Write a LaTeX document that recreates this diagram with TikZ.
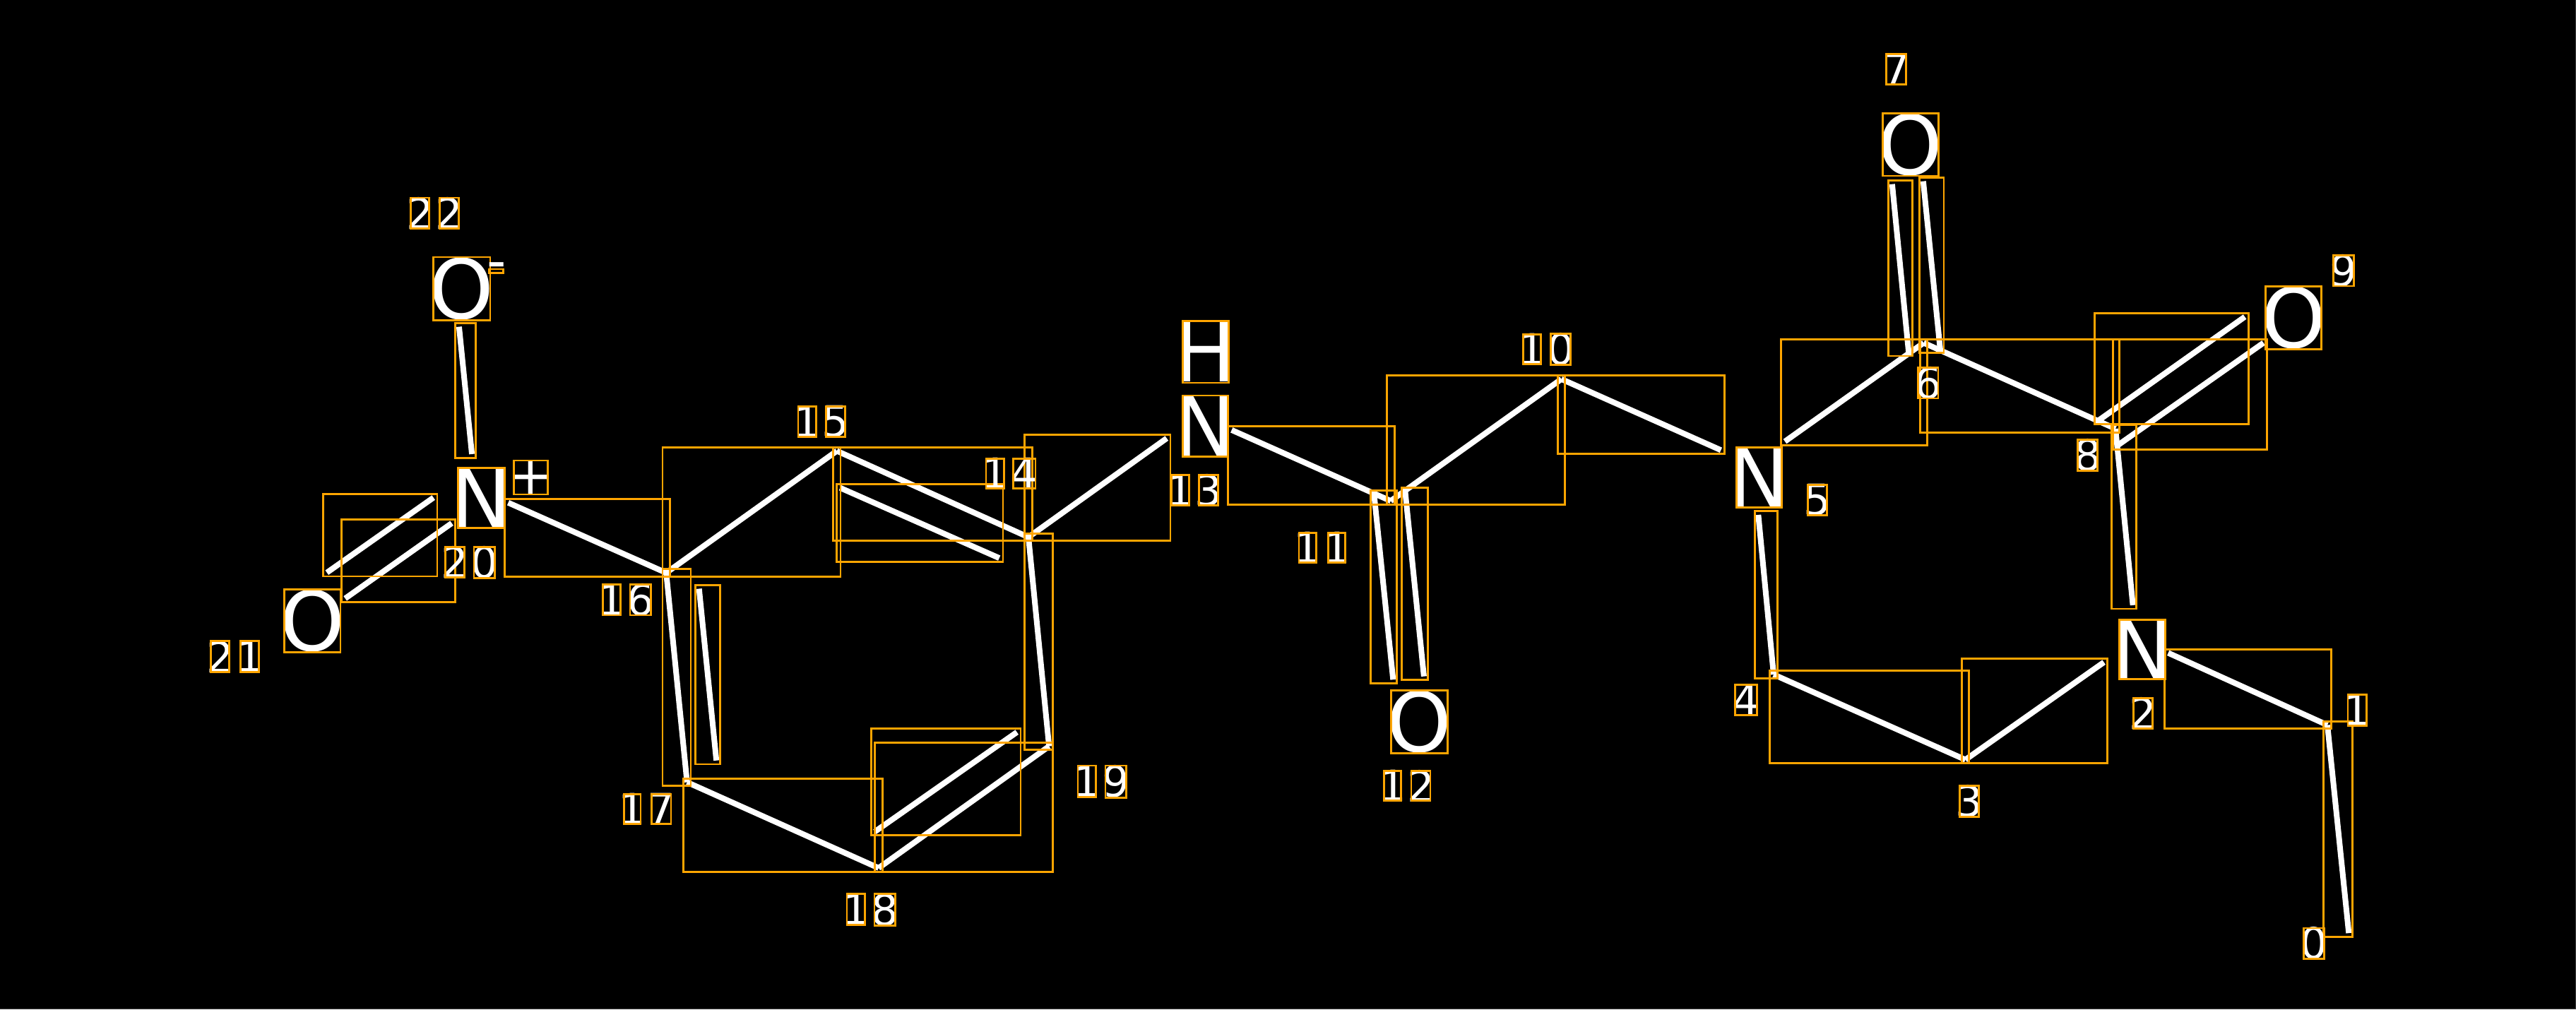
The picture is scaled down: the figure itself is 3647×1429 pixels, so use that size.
\documentclass[tikz,border=0pt]{standalone}
\usepackage{fontspec}
\setmainfont{DejaVu Sans}
\usetikzlibrary{fit}
\definecolor{boxorange}{RGB}{255,165,0}
\definecolor{edgegray}{RGB}{60,60,60}
\newcommand{\gl}[7]{%
  \node[#6] (#1) at ({(#2+#4)/2},{(#3+#5)/2}) {#7};
  \draw[glyphframe] ({#2+1.2},{#3+1.2}) rectangle ({#4-1.2},{#5-1.2});}
\begin{document}
\begin{tikzpicture}[x=0.25pt,y=-0.25pt,
  bond/.style={white, line width=2pt, line cap=butt},
  bondbox/.style={draw=boxorange, line width=0.7pt, inner sep=1.3pt, outer sep=0pt},
  glyphframe/.style={draw=boxorange, line width=0.7pt},
  atomtxt/.style={text=white, inner sep=0pt, outer sep=0pt, font=\fontsize{29.2}{30}\selectfont},
  idxtxt/.style={text=white, inner sep=0pt, outer sep=0pt, font=\fontsize{15.2}{16}\selectfont},
  chgtxt/.style={text=white, inner sep=0pt, outer sep=0pt, font=\fontsize{19}{20}\selectfont}]
\useasboundingbox (0,0) rectangle (3647,1429);
\fill[black] (0,0) rectangle (3647,1429);
\draw[edgegray, line width=0.25pt] (0,1428.5) -- (3646.5,1428.5) -- (3646.5,0);

% carbon atom positions
\coordinate (c0) at (3325.3,1321.1);
\coordinate (c1) at (3295,1026.5);
\coordinate (c3) at (2782.5,1075.6);
\coordinate (c4) at (2511,955);
\coordinate (c6) at (2723.4,485.4);
\coordinate (c8) at (2995,607);
\coordinate (c10) at (2210.5,536.7);
\coordinate (c11) at (1968.9,709.2);
\coordinate (c14) at (1456,760.5);
\coordinate (c15) at (1184.8,638.4);
\coordinate (c16) at (943.2,811);
\coordinate (c17) at (972.7,1107.5);
\coordinate (c18) at (1243.9,1228.9);
\coordinate (c19) at (1485.2,1056.6);
% bond ends next to labelled atoms
\coordinate (n2a) at (3069.6,924.4);
\coordinate (n2b) at (2978.6,937.6);
\coordinate (n2c) at (3019.6,856.8);
\coordinate (n5a) at (2489.3,728.9);
\coordinate (n5b) at (2527,625);
\coordinate (n5c) at (2436.4,637.3);
\coordinate (n13a) at (1743.7,608.8);
\coordinate (n13b) at (1651.8,620.5);
\coordinate (n20a) at (719.5,711.7);
\coordinate (n20b) at (668.1,642.9);
\coordinate (o22) at (649.9,462.6);
% double bond lines
\coordinate (d67a1) at (2702.2,498.8);
\coordinate (d67a2) at (2678.8,260.7);
\coordinate (d67b1) at (2746.8,494.1);
\coordinate (d67b2) at (2722.8,256.6);
\coordinate (d89a1) at (2970.5,595.6);
\coordinate (d89a2) at (3178.1,448.5);
\coordinate (d89b1) at (2996.8,631.4);
\coordinate (d89b2) at (3204.5,485.4);
\coordinate (d1112a1) at (1945.3,699.7);
\coordinate (d1112a2) at (1972.3,962.2);
\coordinate (d1112b1) at (1989.4,696);
\coordinate (d1112b2) at (2015.9,957.6);
\coordinate (i1415a) at (1414.7,790.1);
\coordinate (i1415b) at (1189.3,690.6);
\coordinate (i1617a) at (989.7,833.5);
\coordinate (i1617b) at (1014.2,1076.7);
\coordinate (i1819a) at (1238.4,1177.6);
\coordinate (i1819b) at (1439.7,1036.6);
\coordinate (d2021a1) at (613.7,704.5);
\coordinate (d2021a2) at (462.8,810.7);
\coordinate (d2021b1) at (639.6,740.7);
\coordinate (d2021b2) at (488.7,847.3);

% bonds
\draw[bond] (c0) -- (c1);
\draw[bond] (c1) -- (n2a);
\draw[bond] (n2b) -- (c3);
\draw[bond] (c3) -- (c4);
\draw[bond] (c4) -- (n5a);
\draw[bond] (n5b) -- (c6);
\draw[bond] (d67a1) -- (d67a2);
\draw[bond] (d67b1) -- (d67b2);
\draw[bond] (c6) -- (c8);
\draw[bond] (d89a1) -- (d89a2);
\draw[bond] (d89b1) -- (d89b2);
\draw[bond] (c8) -- (n2c);
\draw[bond] (c10) -- (n5c);
\draw[bond] (c11) -- (c10);
\draw[bond] (d1112a1) -- (d1112a2);
\draw[bond] (d1112b1) -- (d1112b2);
\draw[bond] (n13a) -- (c11);
\draw[bond] (c14) -- (n13b);
\draw[bond] (c15) -- (c14);
\draw[bond] (i1415a) -- (i1415b);
\draw[bond] (c16) -- (c15);
\draw[bond] (n20a) -- (c16);
\draw[bond] (c16) -- (c17);
\draw[bond] (i1617a) -- (i1617b);
\draw[bond] (c17) -- (c18);
\draw[bond] (c18) -- (c19);
\draw[bond] (i1819a) -- (i1819b);
\draw[bond] (c19) -- (c14);
\draw[bond] (n20b) -- (o22);
\draw[bond] (d2021a1) -- (d2021a2);
\draw[bond] (d2021b1) -- (d2021b2);

% bond boxes
\node[bondbox, fit=(c0)(c1)] (bx01) {};
\node[bondbox, fit=(c1)(n2a)] (bx12) {};
\node[bondbox, fit=(n2b)(c3)] (bx23) {};
\node[bondbox, fit=(c3)(c4)] (bx34) {};
\node[bondbox, fit=(c4)(n5a)] (bx45) {};
\node[bondbox, fit=(n5b)(c6)] (bx56) {};
\node[bondbox, fit=(d67a1)(d67a2)] (bx67a) {};
\node[bondbox, fit=(d67b1)(d67b2)] (bx67b) {};
\node[bondbox, fit=(c6)(c8)] (bx68) {};
\node[bondbox, fit=(d89a1)(d89a2)] (bx89a) {};
\node[bondbox, fit=(d89b1)(d89b2)] (bx89b) {};
\node[bondbox, fit=(c8)(n2c)] (bx82) {};
\node[bondbox, fit=(c10)(n5c)] (bx105) {};
\node[bondbox, fit=(c11)(c10)] (bx1110) {};
\node[bondbox, fit=(d1112a1)(d1112a2)] (bx1112a) {};
\node[bondbox, fit=(d1112b1)(d1112b2)] (bx1112b) {};
\node[bondbox, fit=(n13a)(c11)] (bx1311) {};
\node[bondbox, fit=(c14)(n13b)] (bx1413) {};
\node[bondbox, fit=(c15)(c14)] (bx1514) {};
\node[bondbox, fit=(i1415a)(i1415b)] (bx1415i) {};
\node[bondbox, fit=(c16)(c15)] (bx1615) {};
\node[bondbox, fit=(n20a)(c16)] (bx2016) {};
\node[bondbox, fit=(c16)(c17)] (bx1617) {};
\node[bondbox, fit=(i1617a)(i1617b)] (bx1617i) {};
\node[bondbox, fit=(c17)(c18)] (bx1718) {};
\node[bondbox, fit=(c18)(c19)] (bx1819) {};
\node[bondbox, fit=(i1819a)(i1819b)] (bx1819i) {};
\node[bondbox, fit=(c19)(c14)] (bx1914) {};
\node[bondbox, fit=(n20b)(o22)] (bx2022) {};
\node[bondbox, fit=(d2021a1)(d2021a2)] (bx2021a) {};
\node[bondbox, fit=(d2021b1)(d2021b2)] (bx2021b) {};

% atom symbols
\gl{aO22}{612.6}{362.8}{695.2}{454.7}{atomtxt}{O}
\gl{aN20}{647}{661}{715.3}{749}{atomtxt}{N}
\gl{aO21}{401}{832.9}{483.1}{924.4}{atomtxt}{O}
\gl{aH13}{1673}{453.5}{1740.5}{543.1}{atomtxt}{H}
\gl{aN13}{1673}{558.7}{1739.5}{647.3}{atomtxt}{N}
\gl{aO12}{1968.2}{976.5}{2050.4}{1067.4}{atomtxt}{O}
\gl{aN5}{2457}{632}{2523.3}{719.6}{atomtxt}{N}
\gl{aO7}{2664.1}{159.1}{2745.7}{250.1}{atomtxt}{O}
\gl{aO9}{3206.3}{404.4}{3287.8}{495.3}{atomtxt}{O}
\gl{aN2}{2999.2}{876.2}{3066.6}{963}{atomtxt}{N}
% charges
\gl{qplus}{726.4}{650.7}{776.9}{701.2}{chgtxt}{+}
\gl{qminus}{691.6}{379.7}{713.9}{387.8}{chgtxt}{-}

% atom indices
\gl{l0}{3260.3}{1312.8}{3292}{1358.7}{idxtxt}{0}
\gl{l1}{3322.7}{982.3}{3351.3}{1028.3}{idxtxt}{1}
\gl{l2}{3019.1}{987.2}{3049}{1032.7}{idxtxt}{2}
\gl{l3}{2773.3}{1111.2}{2802.6}{1157.7}{idxtxt}{3}
\gl{l4}{2455.2}{968.4}{2488.7}{1013.3}{idxtxt}{4}
\gl{l5}{2557.9}{684.9}{2587.8}{730.6}{idxtxt}{5}
\gl{l6}{2714.6}{519.4}{2745.1}{565.2}{idxtxt}{6}
\gl{l7}{2669.4}{75.2}{2699.9}{121}{idxtxt}{7}
\gl{l8}{2940.5}{620.9}{2970.4}{667.3}{idxtxt}{8}
\gl{l9}{3301.9}{360.4}{3333.6}{406.2}{idxtxt}{9}
\gl{l10a}{2155.5}{471.9}{2183}{516.9}{idxtxt}{1}
\gl{l10b}{2194.5}{471}{2224.4}{517.8}{idxtxt}{0}
\gl{l11a}{1837.8}{752.9}{1864.4}{797.5}{idxtxt}{1}
\gl{l11b}{1879.1}{752.9}{1905.8}{797.5}{idxtxt}{1}
\gl{l12a}{1958.1}{1090.4}{1984.7}{1135}{idxtxt}{1}
\gl{l12b}{1996.7}{1090.4}{2026.1}{1135}{idxtxt}{2}
\gl{l13a}{1656.9}{671.2}{1684.4}{716.6}{idxtxt}{1}
\gl{l13b}{1695.9}{671.2}{1725.8}{716.6}{idxtxt}{3}
\gl{l14a}{1394.8}{648.4}{1422.5}{692.6}{idxtxt}{1}
\gl{l14b}{1433.2}{648.4}{1467.1}{692.6}{idxtxt}{4}
\gl{l15a}{1128.8}{574.3}{1156.9}{619.8}{idxtxt}{1}
\gl{l15b}{1168}{574.3}{1198}{619.8}{idxtxt}{5}
\gl{l16a}{852.3}{826}{879.6}{872.1}{idxtxt}{1}
\gl{l16b}{890.7}{826}{922.9}{872.1}{idxtxt}{6}
\gl{l17a}{882.3}{1123.4}{908.2}{1168}{idxtxt}{1}
\gl{l17b}{921.2}{1123.4}{951.1}{1168}{idxtxt}{7}
\gl{l18a}{1197.7}{1264.3}{1226}{1311}{idxtxt}{1}
\gl{l18b}{1236.7}{1264.3}{1268.3}{1312}{idxtxt}{8}
\gl{l19a}{1524.7}{1082.7}{1553}{1129.3}{idxtxt}{1}
\gl{l19b}{1563.7}{1082.7}{1595.3}{1130.3}{idxtxt}{9}
\gl{l20a}{629.1}{773.5}{658.6}{819}{idxtxt}{2}
\gl{l20b}{669.7}{773.5}{701.9}{819.3}{idxtxt}{0}
\gl{l21a}{297}{906.5}{326}{952.5}{idxtxt}{2}
\gl{l21b}{339.4}{906.5}{368}{952.5}{idxtxt}{1}
\gl{l22a}{580}{278.8}{609}{324.8}{idxtxt}{2}
\gl{l22b}{621.5}{278.8}{650.5}{324.8}{idxtxt}{2}
\end{tikzpicture}
\end{document}
